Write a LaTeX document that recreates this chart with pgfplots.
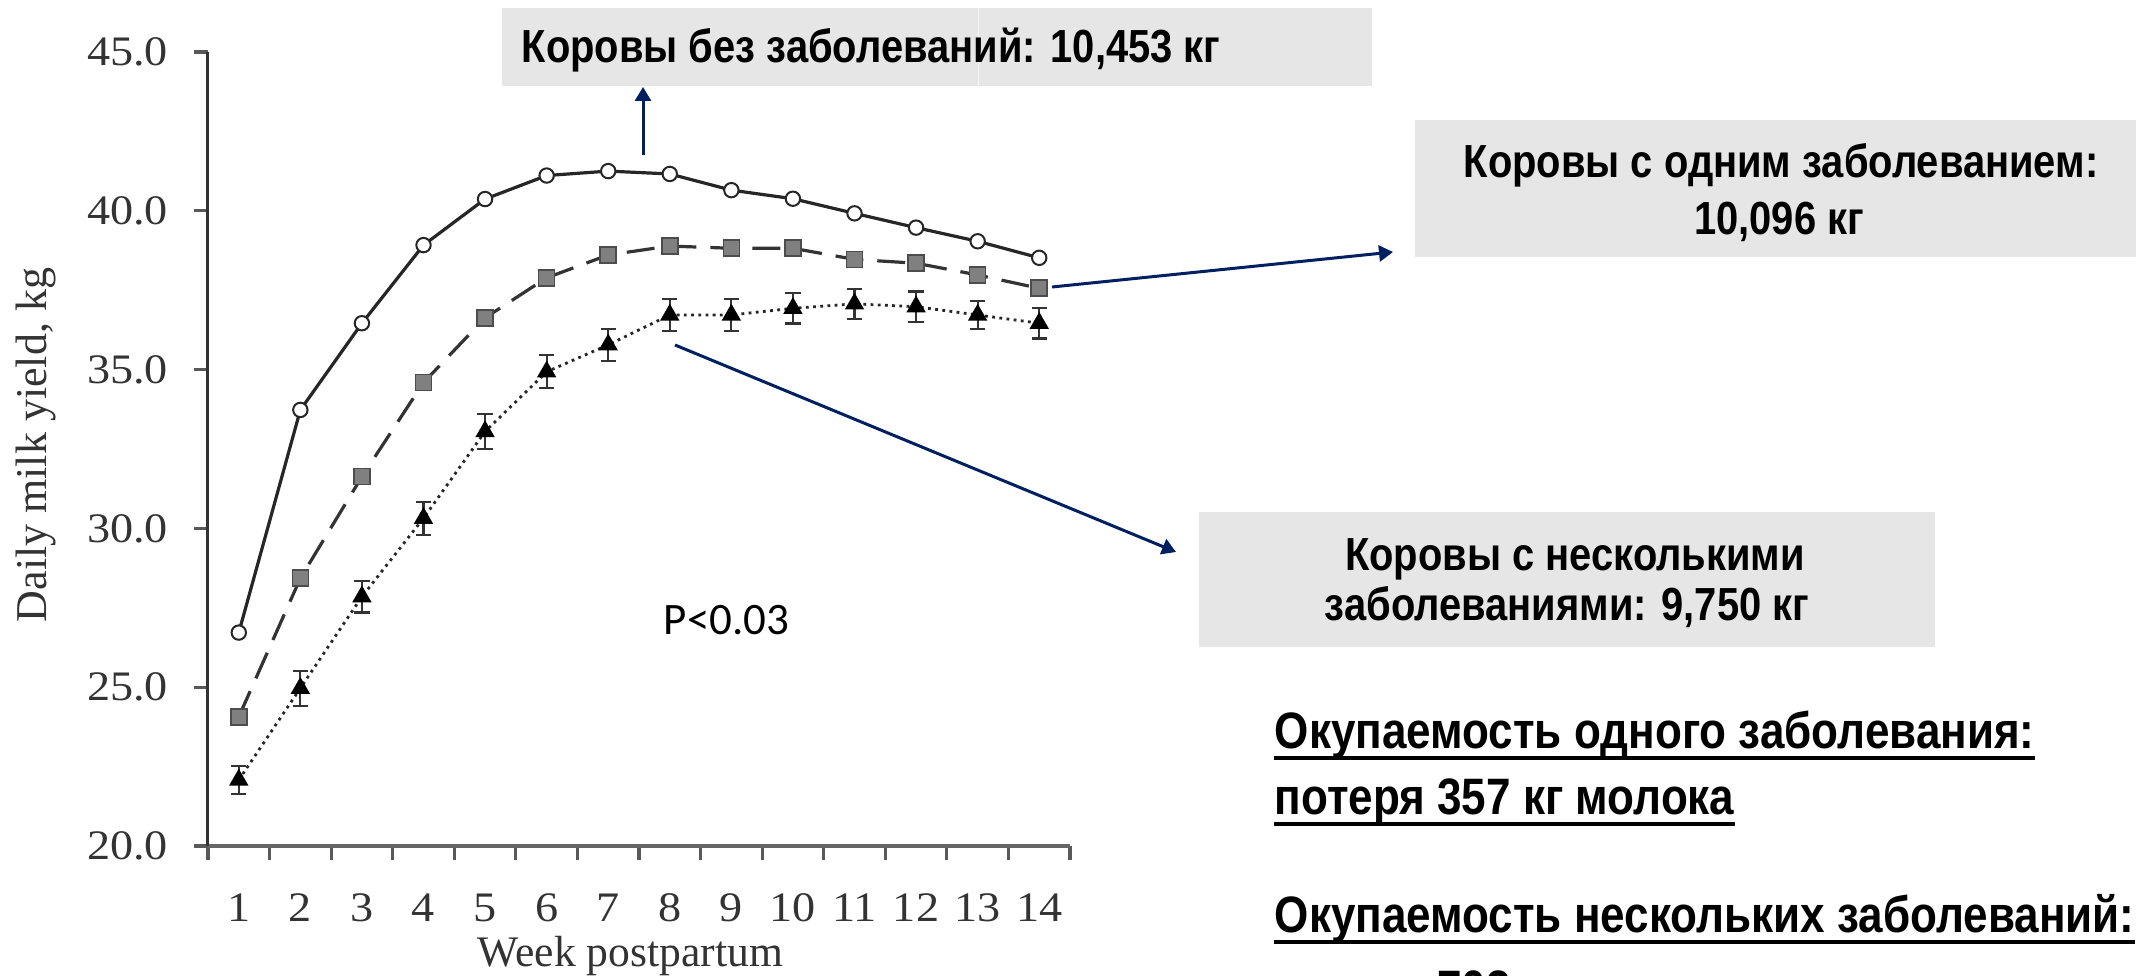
\documentclass[border=0pt]{standalone}
\usepackage{fontspec}
\setmainfont{Liberation Serif}
\newfontfamily\tickfont[FakeStretch=1.1]{Liberation Serif}
\newfontfamily\annfont[FakeStretch=0.86]{Liberation Sans}
\newfontfamily\pfont{Carlito}
\usepackage{pgfplots}
\pgfplotsset{compat=1.18}
\usepackage{pgfplotstable}
\usetikzlibrary{arrows.meta}
\definecolor{navy}{RGB}{0,32,96}
\definecolor{boxgray}{RGB}{230,230,230}

\pgfplotstableread{
w v
1 26.72
2 33.73
3 36.46
4 38.92
5 40.37
6 41.11
7 41.25
8 41.16
9 40.65
10 40.38
11 39.92
12 39.47
13 39.04
14 38.52
}\nodis

\pgfplotstableread{
w v e
1 24.07 0.2
2 28.43 0.2
3 31.63 0.2
4 34.59 0.2
5 36.63 0.2
6 37.89 0.2
7 38.61 0.2
8 38.89 0.2
9 38.82 0.2
10 38.82 0.2
11 38.47 0.2
12 38.35 0.2
13 37.98 0.2
14 37.56 0.2
}\onedis

\pgfplotstableread{
w v e
1 22.08 0.45
2 24.97 0.55
3 27.85 0.50
4 30.32 0.52
5 33.05 0.55
6 34.93 0.52
7 35.78 0.50
8 36.72 0.50
9 36.72 0.50
10 36.93 0.48
11 37.07 0.48
12 36.98 0.48
13 36.72 0.45
14 36.46 0.48
}\multdis

\begin{document}
\begin{tikzpicture}
\useasboundingbox (0,0) rectangle (534pt,243.75pt);
\begin{axis}[
  at={(52pt,32.25pt)}, anchor=south west,
  scale only axis, width=215.5pt, height=198.5pt,
  xmin=0.5, xmax=14.5, ymin=20, ymax=45,
  axis lines=left, axis line style={-},
  x axis line style={draw=black!60, line width=1pt},
  y axis line style={draw=black!80, line width=0.75pt},
  clip=false,
  tick align=outside, major tick length=3.5pt,
  tick style={draw=black!65, line width=0.8pt},
  ytick={20,25,30,35,40,45},
  /pgf/number format/assume math mode=true,
  yticklabel style={/pgf/number format/.cd, fixed, fixed zerofill, precision=1, /tikz/.cd,
     font=\tickfont\fontsize{10.5}{12}\selectfont, text=black!80, xshift=-3pt},
  xtick={0.5,1.5,2.5,3.5,4.5,5.5,6.5,7.5,8.5,9.5,10.5,11.5,12.5,13.5,14.5},
  xticklabels={,,,,,,,,,,,,,,,},
  extra x ticks={1,2,3,4,5,6,7,8,9,10,11,12,13,14},
  extra x tick labels={1,2,3,4,5,6,7,8,9,10,11,12,13,14},
  extra x tick style={major tick length=0pt, tick style={draw=none},
     xticklabel style={anchor=base, yshift=-18.75pt, font=\tickfont\fontsize{10.5}{12}\selectfont, text=black!80}},
  every axis y label/.style={at={(axis description cs:-0.1870,0.505)}, rotate=90, anchor=base,
     font=\fontsize{11}{13}\selectfont, text=black!80},
  every axis x label/.style={at={(axis description cs:0.49,-0.152)}, anchor=base,
     font=\fontsize{10.9}{13}\selectfont, text=black!80},
  ylabel={Daily milk yield, kg},
  xlabel={Week postpartum},
]
\addplot[black!85, line width=0.8pt, mark=*, mark size=1.8pt,
  mark options={fill=white, draw=black!85, line width=0.5pt}] table[x=w, y=v] {\nodis};
\addplot[black!80, line width=0.8pt, dash pattern=on 7pt off 3.5pt, mark=square*, mark size=2pt,
  mark options={solid, fill=black!50, draw=black!70, line width=0.4pt},
  error bars/.cd, y dir=both, y explicit,
  error bar style={solid, line width=0.5pt, black!70},
  error mark options={rotate=90, mark size=1.5pt, line width=0.5pt, black!70}]
  table[x=w, y=v, y error=e] {\onedis};
\addplot[black!85, line width=0.7pt, dash pattern=on 0.7pt off 1.1pt, mark=triangle*, mark size=2.1pt,
  mark options={solid, fill=black, draw=black},
  error bars/.cd, y dir=both, y explicit,
  error bar style={solid, line width=0.55pt, black!80},
  error mark options={rotate=90, mark size=1.9pt, line width=0.55pt, black!80}]
  table[x=w, y=v, y error=e] {\multdis};
\end{axis}

\begin{scope}[x=0.25pt, y=-0.25pt, shift={(0pt,243.75pt)}]
  % box 1
  \fill[boxgray] (502,8) rectangle (1372,86);
  \draw[white!60!boxgray, line width=0.25pt] (978,8) -- (978,86);
  \node[anchor=base west, inner sep=0pt, font=\annfont\bfseries\fontsize{11.6}{13}\selectfont]
    at (521,63) {Коровы без заболеваний: 10,453 кг};
  % box 2
  \fill[boxgray] (1415,120) rectangle (2150,257);
  \node[anchor=base, inner sep=0pt, font=\annfont\bfseries\fontsize{11.6}{13}\selectfont]
    at (1781,178) {Коровы с одним заболеванием:};
  \node[anchor=base, inner sep=0pt, font=\annfont\bfseries\fontsize{11.6}{13}\selectfont]
    at (1779,235) {10,096 кг};
  % box 3
  \fill[boxgray] (1199,512) rectangle (1935,647);
  \node[anchor=base, inner sep=0pt, font=\annfont\bfseries\fontsize{11.6}{13}\selectfont]
    at (1575,570) {Коровы с несколькими};
  \node[anchor=base, inner sep=0pt, font=\annfont\bfseries\fontsize{11.6}{13}\selectfont]
    at (1567,620) {заболеваниями: 9,750 кг};
  % arrows
  \draw[navy, line width=0.75pt, -{Triangle[width=4pt,length=3.5pt]}] (643,155) -- (643,87);
  \draw[navy, line width=0.75pt, -{Triangle[width=4pt,length=3.5pt]}] (1052,287) -- (1393,252);
  \draw[navy, line width=0.75pt, -{Triangle[width=4pt,length=3.5pt]}] (675,345) -- (1176,552);
  % P value
  \node[anchor=base west, inner sep=0pt, font=\pfont\fontsize{11.25}{13}\selectfont]
    at (663,634) {P<0.03};
  % bottom texts
  \node[anchor=base west, inner sep=0pt, font=\annfont\bfseries\fontsize{12.8}{15}\selectfont]
    (l1) at (1274,748) {Окупаемость одного заболевания:};
  \node[anchor=base west, inner sep=0pt, font=\annfont\bfseries\fontsize{12.8}{15}\selectfont]
    (l2) at (1274,814) {потеря 357 кг молока};
  \node[anchor=base west, inner sep=0pt, font=\annfont\bfseries\fontsize{12.8}{15}\selectfont]
    (l3) at (1274,932) {Окупаемость нескольких заболеваний:};
  \node[anchor=base west, inner sep=0pt, font=\annfont\bfseries\fontsize{12.8}{15}\selectfont]
    (l4) at (1274,1006) {потеря 703 кг молока};
  \foreach \n in {l1,l2,l3,l4}{
    \draw[black, line width=0.85pt] ([yshift=-2.5pt]\n.base west) -- ([yshift=-2.5pt]\n.base east);
  }
\end{scope}
\end{tikzpicture}
\end{document}
